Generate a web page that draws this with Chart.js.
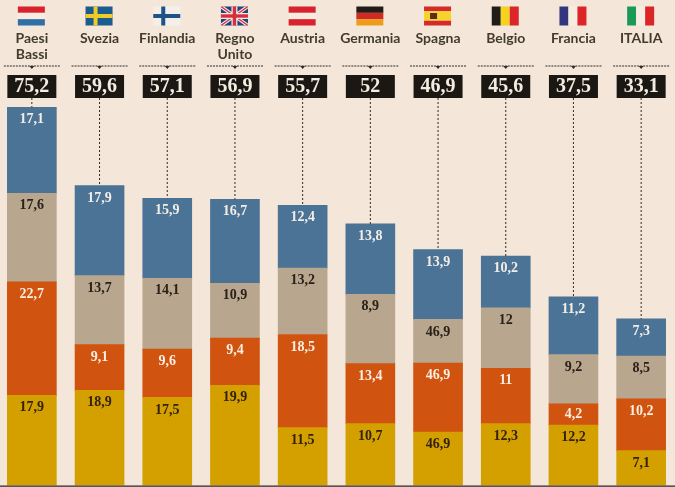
<!DOCTYPE html>
<html>
<head>
<meta charset="utf-8">
<style>
  html, body { margin: 0; padding: 0; background: #f4e7d9; overflow: hidden; }
  canvas { position: absolute; left: -2px; top: 0; }
</style>
</head>
<body>
<canvas id="myChart" width="677" height="487"></canvas>
<script src="https://cdn.jsdelivr.net/npm/chart.js@4/dist/chart.umd.min.js"></script>
<script>
const categories = [['Paesi', 'Bassi'], ['Svezia', ''], ['Finlandia', ''], ['Regno', 'Unito'], ['Austria', ''],
    ['Germania', ''], ['Spagna', ''], ['Belgio', ''], ['Francia', ''], ['ITALIA', '']];
const flags = ['nl', 'se', 'fi', 'uk', 'at', 'de', 'es', 'be', 'fr', 'it'];
const totals = ['75,2', '59,6', '57,1', '56,9', '55,7', '52', '46,9', '45,6', '37,5', '33,1'];

// bar heights (some printed labels do not match them)
const yellow = [17.9, 18.9, 17.5, 19.9, 11.5, 12.3, 10.6, 12.3, 12.0, 6.9];
const orange = [22.6, 9.1, 9.6, 9.4, 18.5, 11.9, 13.7, 11.0, 4.2, 10.3];
const tan = [17.6, 13.7, 14.1, 10.9, 13.2, 13.8, 8.7, 12.0, 9.8, 8.5];
const blue = [17.1, 17.9, 15.9, 16.7, 12.5, 14.0, 13.9, 10.3, 11.5, 7.4];

// labels as printed
const yellowLabels = ['17,9', '18,9', '17,5', '19,9', '11,5', '10,7', '46,9', '12,3', '12,2', '7,1'];
const orangeLabels = ['22,7', '9,1', '9,6', '9,4', '18,5', '13,4', '46,9', '11', '4,2', '10,2'];
const tanLabels = ['17,6', '13,7', '14,1', '10,9', '13,2', '8,9', '46,9', '12', '9,2', '8,5'];
const blueLabels = ['17,1', '17,9', '15,9', '16,7', '12,4', '13,8', '13,9', '10,2', '11,2', '7,3'];

const INK = '#1b1814';
const SERIF = '"Liberation Serif", serif';
const PAPER = '#f6ece2';

function stripes(ctx, x, y, w, h, colors, vertical) {
    colors.forEach((c, i) => {
        ctx.fillStyle = c;
        if (vertical) {
            ctx.fillRect(x + i * w / colors.length, y, w / colors.length, h);
        } else {
            ctx.fillRect(x, y + i * h / colors.length, w, h / colors.length);
        }
    });
}

function cross(ctx, x, y, w, h, bg, fg) {
    ctx.fillStyle = bg;
    ctx.fillRect(x, y, w, h);
    ctx.fillStyle = fg;
    ctx.fillRect(x + 8, y, 4, h);
    ctx.fillRect(x, y + h / 2 - 2, w, 4);
}

function drawFlag(ctx, name, cx) {
    const w = 27, h = 19, x = cx - w / 2, y = 6.5;
    if (name === 'nl') stripes(ctx, x, y, w, h, ['#d8232f', PAPER, '#2f6fa6']);
    if (name === 'se') cross(ctx, x, y, w, h, '#1c5c8c', '#f0cb2c');
    if (name === 'fi') cross(ctx, x, y, w, h, '#f3efe9', '#1f5288');
    if (name === 'at') stripes(ctx, x, y, w, h, ['#d8232f', PAPER, '#d8232f']);
    if (name === 'de') stripes(ctx, x, y, w, h, ['#221c18', '#cf2a24', '#ee9c1c']);
    if (name === 'es') {
        stripes(ctx, x, y, w, h, ['#d42a2a', '#f6d22e', '#f6d22e', '#d42a2a']);
        ctx.fillStyle = '#5a2e1c';
        ctx.fillRect(x + 6, y + 6.5, 7, 6);
    }
    if (name === 'be') stripes(ctx, x, y, w, h, ['#221c18', '#f4d21f', '#dc2528'], true);
    if (name === 'fr') stripes(ctx, x, y, w, h, ['#33367f', PAPER, '#dc2528'], true);
    if (name === 'it') stripes(ctx, x, y, w, h, ['#1a9a56', PAPER, '#dc2528'], true);
    if (name === 'uk') {
        ctx.fillStyle = '#2b3f78';
        ctx.fillRect(x, y, w, h);
        ctx.save();
        ctx.beginPath();
        ctx.rect(x, y, w, h);
        ctx.clip();
        [[3.5, '#f3e6e6'], [1.2, '#d3303a']].forEach(([lw, c]) => {
            ctx.strokeStyle = c;
            ctx.lineWidth = lw;
            ctx.beginPath();
            ctx.moveTo(x, y);
            ctx.lineTo(x + w, y + h);
            ctx.moveTo(x + w, y);
            ctx.lineTo(x, y + h);
            ctx.stroke();
        });
        ctx.restore();
        ctx.fillStyle = '#f3e6e6';
        ctx.fillRect(cx - 3, y, 6, h);
        ctx.fillRect(x, y + h / 2 - 3, w, 6);
        ctx.fillStyle = '#d3303a';
        ctx.fillRect(cx - 1.7, y, 3.4, h);
        ctx.fillRect(x, y + h / 2 - 1.7, w, 3.4);
    }
}

const decorations = {
    id: 'decorations',
    afterDatasetsDraw(chart) {
        const ctx = chart.ctx;
        const yScale = chart.scales.y;
        const xScale = chart.scales.x;
        const topMeta = chart.getDatasetMeta(3);

        ctx.save();
        // segment values
        ctx.textAlign = 'center';
        ctx.textBaseline = 'middle';
        ctx.font = 'bold 14px ' + SERIF;
        chart.data.datasets.forEach((ds, d) => {
            chart.getDatasetMeta(d).data.forEach((bar, i) => {
                const offset = Math.min(12.5, Math.abs(bar.base - bar.y) / 2);
                ctx.fillStyle = ds.labelColor;
                ctx.fillText(ds.printed[i], bar.x, bar.y + offset);
            });
        });

        categories.forEach((c, i) => {
            const cx = xScale.getPixelForValue(i);
            drawFlag(ctx, flags[i], cx - 0.5);

            // dotted rule with its little pointer
            ctx.strokeStyle = '#2e2a25';
            ctx.lineWidth = 1;
            ctx.setLineDash([2, 1]);
            ctx.beginPath();
            ctx.moveTo(cx - 28, 66);
            ctx.lineTo(cx + 28, 66);
            ctx.stroke();
            ctx.fillStyle = '#2e2a25';
            ctx.beginPath();
            ctx.moveTo(cx - 2.5, 66);
            ctx.lineTo(cx + 2.5, 66);
            ctx.lineTo(cx, 69);
            ctx.fill();

            // leader from the total to the bar
            const barTop = topMeta.data[i].y;
            ctx.setLineDash([2, 2]);
            ctx.beginPath();
            ctx.moveTo(cx, 98);
            ctx.lineTo(cx, barTop);
            ctx.stroke();
            ctx.setLineDash([]);

            // total box
            ctx.fillStyle = INK;
            ctx.fillRect(cx - 24.5, 75, 49, 23);
            ctx.fillStyle = '#f5ece0';
            ctx.font = 'bold 20px ' + SERIF;
            ctx.fillText(totals[i], cx, 87);
            ctx.font = 'bold 14px ' + SERIF;
        });

        // baseline
        ctx.fillStyle = '#4a4640';
        ctx.fillRect(0, yScale.getPixelForValue(0), chart.width, 1.5);
        ctx.restore();
    }
};

new Chart(document.getElementById('myChart').getContext('2d'), {
    type: 'bar',
    data: {
        labels: categories,
        datasets: [
            { label: 'yellow', data: yellow, backgroundColor: '#d4a000', printed: yellowLabels, labelColor: '#33220c' },
            { label: 'orange', data: orange, backgroundColor: '#d0530f', printed: orangeLabels, labelColor: '#fbeee2' },
            { label: 'tan', data: tan, backgroundColor: '#b8a68e', printed: tanLabels, labelColor: '#2a2119' },
            { label: 'blue', data: blue, backgroundColor: '#4a7396', printed: blueLabels, labelColor: '#f3ede6' }
        ]
    },
    plugins: [decorations],
    options: {
        responsive: false,
        animation: false,
        events: [],
        barThickness: 49,
        layout: { padding: { top: 0, bottom: 1.6, left: 0, right: 0 } },
        plugins: { legend: { display: false }, tooltip: { enabled: false }, title: { display: false } },
        scales: {
            x: {
                position: 'top',
                stacked: true,
                grid: { display: false, drawTicks: false },
                border: { display: false },
                afterFit(scale) { scale.height = 66; },
                ticks: {
                    autoSkip: false,
                    maxRotation: 0,
                    padding: 4,
                    color: '#433a30',
                    font: { family: 'Lato, sans-serif', size: 14, lineHeight: 1.14, weight: 'bold' }
                }
            },
            y: {
                display: false,
                stacked: true,
                min: 0,
                max: 83.4
            }
        }
    }
});
</script>
</body>
</html>
